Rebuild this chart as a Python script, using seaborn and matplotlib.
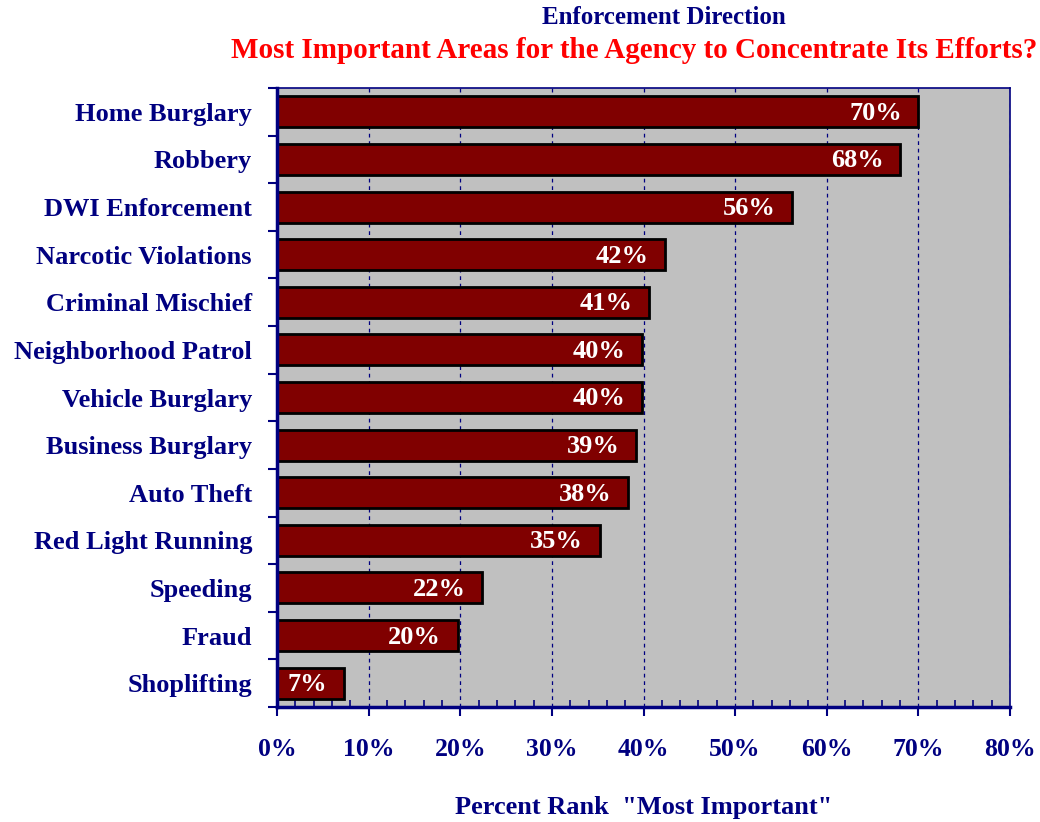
import numpy as np
import pandas as pd
import matplotlib
matplotlib.use("Agg")
import matplotlib.pyplot as plt
import seaborn as sns
from matplotlib.ticker import MultipleLocator, PercentFormatter

categories = ["Home Burglary", "Robbery", "DWI Enforcement", "Narcotic Violations",
              "Criminal Mischief", "Neighborhood Patrol", "Vehicle Burglary",
              "Business Burglary", "Auto Theft", "Red Light Running", "Speeding",
              "Fraud", "Shoplifting"]
values = [70.0, 68.0, 56.2, 42.4, 40.6, 39.8, 39.8, 39.2, 38.3, 35.2, 22.4, 19.7, 7.3]
labels = ["70%", "68%", "56%", "42%", "41%", "40%", "40%", "39%", "38%", "35%", "22%", "20%", "7%"]

navy = "#000080"
bar_color = "#800000"

sns.set_style("white")
plt.rcParams['font.family'] = ['Liberation Serif', 'DejaVu Serif']
plt.rcParams['font.weight'] = 'bold'

df = pd.DataFrame({"cat": categories, "val": values})

fig = plt.figure(figsize=(10.4, 8.22), dpi=100)
ax = fig.add_axes([277 / 1040, 1 - 707 / 822, (1010 - 277) / 1040, (707 - 88) / 822])
ax.set_facecolor("#C0C0C0")

sns.barplot(data=df, y="cat", x="val", color=bar_color, orient="h", width=0.65,
            edgecolor="black", linewidth=2, saturation=1, ax=ax)

# value labels inside the bars
for i, (v, lab) in enumerate(zip(values, labels)):
    ax.text(v - 1.8, i + 0.03, lab, ha="right", va="center", color="white",
            fontsize=19, fontweight="bold")

ax.set_xlim(0, 80)
ax.set_ylim(len(categories) - 0.5, -0.5)
ax.xaxis.set_major_locator(MultipleLocator(10))
ax.xaxis.set_minor_locator(MultipleLocator(2))
ax.xaxis.set_major_formatter(PercentFormatter(decimals=0))
ax.grid(axis="x", which="major", color=navy, linestyle=(0, (3, 3)), linewidth=0.9)
ax.set_axisbelow(True)

ax.set_yticks(np.arange(len(categories)))
ax.set_yticklabels(categories)
ax.set_yticks(np.arange(len(categories) + 1) - 0.5, minor=True)
ax.tick_params(axis="y", which="major", left=False, length=0, pad=18, labelsize=19,
               labelcolor=navy)
ax.tick_params(axis="y", which="minor", left=True, length=6.5, width=1.5, color=navy,
               direction="out")
ax.tick_params(axis="x", which="major", bottom=True, length=6.5, width=1.5, color=navy,
               direction="out", pad=16, labelsize=18.5, labelcolor=navy)
ax.tick_params(axis="x", which="minor", bottom=True, length=5, width=1.2, color=navy,
               direction="in")

for side in ["left", "bottom"]:
    ax.spines[side].set_color(navy)
    ax.spines[side].set_linewidth(2.5)
for side in ["top", "right"]:
    ax.spines[side].set_color(navy)
    ax.spines[side].set_linewidth(1.2)

ax.set_ylabel("")
ax.set_xlabel('Percent Rank  "Most Important"', fontsize=19, color=navy,
              fontweight="bold", labelpad=25)

fig.text(664 / 1040, 1 - 18 / 822, "Enforcement Direction", ha="center", va="center",
         fontsize=18, color=navy, fontweight="bold")
fig.text(634 / 1040, 1 - 50 / 822, "Most Important Areas for the Agency to Concentrate Its Efforts?",
         ha="center", va="center", fontsize=21, color="#FF0000", fontweight="bold")

fig.savefig("out.png", dpi=100)
